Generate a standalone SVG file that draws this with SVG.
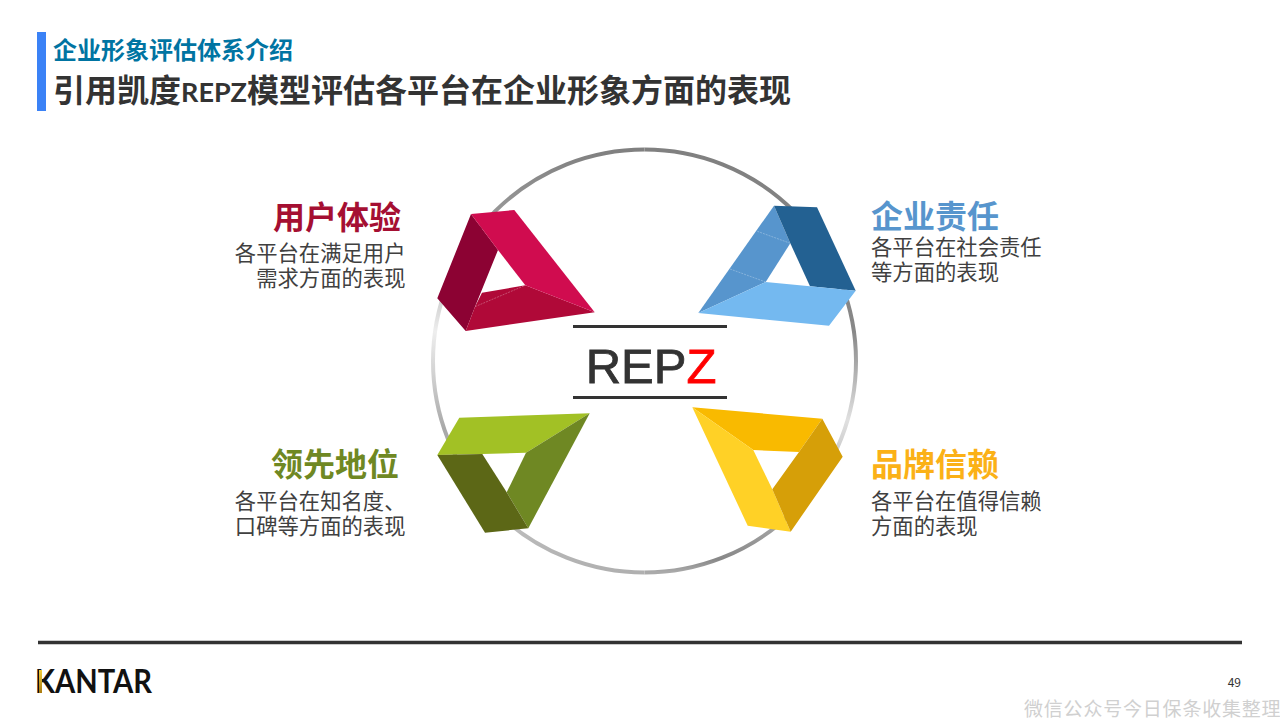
<svg xmlns="http://www.w3.org/2000/svg" width="1280" height="720" viewBox="0 0 1280 720">
<style>
text{font-family:"Noto Sans CJK SC","Noto Sans",sans-serif}
.head{font-size:32px;font-weight:700}
.body{font-size:21.330px;fill:#404040}
.end{text-anchor:end}
.rule{stroke:#333;stroke-width:3}
.ring{fill:none;stroke-width:4}
.fold{stroke:#fff;stroke-opacity:.35;stroke-width:.8;stroke-dasharray:2 1;fill:none}
</style>
<defs>
<linearGradient id="ringR" gradientUnits="userSpaceOnUse" x1="0" y1="150" x2="0" y2="572">
<stop offset="0" stop-color="#808080"/><stop offset=".43" stop-color="#888"/><stop offset=".64" stop-color="#e0e0e0"/><stop offset=".7" stop-color="#d0d0d0"/><stop offset=".9" stop-color="#a0a0a0"/><stop offset=".97" stop-color="#888"/><stop offset="1" stop-color="#aaa"/>
</linearGradient>
<linearGradient id="ringL" gradientUnits="userSpaceOnUse" x1="0" y1="150" x2="0" y2="572">
<stop offset="0" stop-color="#808080"/><stop offset=".26" stop-color="#aaa"/><stop offset=".43" stop-color="#eee"/><stop offset=".55" stop-color="#ccc"/><stop offset=".66" stop-color="#a8a8a8"/><stop offset=".9" stop-color="#bbb"/><stop offset="1" stop-color="#b0b0b0"/>
</linearGradient>
<linearGradient id="gold" x1="0" y1="0" x2="0" y2="1"><stop offset="0" stop-color="#f5cf3a"/><stop offset="1" stop-color="#a87a10"/></linearGradient>
</defs>
<rect width="1280" height="720" fill="#fff"/>
<g id="header">
<rect x="37" y="32" width="9" height="79" fill="#3b82f6"/>
<text x="53" y="59" font-size="24" font-weight="700" fill="#0074a2">企业形象评估体系介绍</text>
<text x="53" y="102" font-size="32" font-weight="700" fill="#333">引用凯度<tspan font-size="27" style="font-family:Lato,sans-serif">REPZ</tspan>模型评估各平台在企业形象方面的表现</text>
</g>
<g id="connectors">
<path class="ring" stroke="url(#ringR)" d="M644.500 149.500A211.500 211.500 0 0 1 644.500 572.500"/>
<path class="ring" stroke="url(#ringL)" d="M644.500 572.500A211.500 211.500 0 0 1 644.500 149.500"/>
</g>
<g id="node-repz">
<line class="rule" x1="573" y1="326.500" x2="727" y2="326.500"/>
<line class="rule" x1="573" y1="397.500" x2="727" y2="397.500"/>
<text x="651" y="383" text-anchor="middle" font-size="49" stroke="#333" stroke-width=".8" style="font-family:'Liberation Sans',sans-serif" fill="#333">REP<tspan fill="#f00" stroke="#f00">Z</tspan></text>
</g>
<g id="node-ux">
<polygon points="471,214 498,250 475,306.700 465.700,331 437.300,298.300" fill="#8c0233"/>
<polygon points="465.700,331 475,306.700 482,292.700 525.300,285.300 594.700,312.300" fill="#b00938"/>
<polygon points="471,214 514.300,210 594.700,312.300 525.300,285.300 498,250" fill="#d00c4f"/>
<line class="fold" x1="475" y1="306.700" x2="525.300" y2="285.300"/>
<text class="head end" x="401" y="229" fill="#a50f32">用户体验</text>
<text class="body end" x="405.500" y="260.500">各平台在满足用户</text>
<text class="body end" x="405.500" y="285.500">需求方面的表现</text>
</g>
<g id="node-csr">
<polygon points="774,205.700 790.300,243.300 765.700,282 698.300,313" fill="#5795cd"/>
<polygon points="774,205.700 817,207.300 855.700,290.700 810,286.300 790.300,243.300" fill="#236192"/>
<polygon points="698.300,313 765.700,282 810,286.300 855.700,290.700 829,325.700" fill="#74b9f0"/>
<line class="fold" x1="757.300" y1="231.300" x2="790.300" y2="243.300"/>
<line class="fold" x1="730" y1="269" x2="765.700" y2="282"/>
<text class="head" x="871" y="228" fill="#5795cd">企业责任</text>
<text class="body" x="871" y="255">各平台在社会责任</text>
<text class="body" x="871" y="280">等方面的表现</text>
</g>
<g id="node-position">
<polygon points="459.300,417.700 589.700,413.300 526,452.700 482.300,454 437.300,455" fill="#a2c125"/>
<polygon points="589.700,413.300 526,452.700 506.700,492.300 528.300,528.300" fill="#6f8823"/>
<polygon points="437.300,455 482.300,454 506.700,492.300 528.300,528.300 485,532.700" fill="#5c6716"/>
<text class="head end" x="399" y="476" fill="#6f8823">领先地位</text>
<text class="body end" x="405.500" y="508.500">各平台在知名度、</text>
<text class="body end" x="405.500" y="533.500">口碑等方面的表现</text>
</g>
<g id="node-brand">
<polygon points="692.300,407.300 822.300,418.700 799,452 753.300,450" fill="#f9ba00"/>
<polygon points="692.300,407.300 753.300,450 772.300,489.300 790.700,531.700 747.700,525.700" fill="#ffd126"/>
<polygon points="822.300,418.700 842.700,456.700 790.700,531.700 772.300,489.300 799,452" fill="#d69f08"/>
<text class="head" x="871" y="476" fill="#fbb117">品牌信赖</text>
<text class="body" x="871" y="508.500">各平台在值得信赖</text>
<text class="body" x="871" y="533.500">方面的表现</text>
</g>
<g id="footer">
<line x1="38" y1="642.500" x2="1242" y2="642.500" stroke="#333" stroke-width="3.500"/>
<text x="35" y="693" font-size="32" font-weight="700" textLength="117" lengthAdjust="spacingAndGlyphs" style="font-family:Lato,sans-serif" fill="#111">KANTAR</text>
<rect x="39" y="670" width="3" height="23" fill="url(#gold)"/>
<text x="1241" y="687" text-anchor="end" font-size="12" fill="#333">49</text>
<text x="1024" y="716" font-size="19" letter-spacing="0.800" fill="#d0d0d0">微信公众号今日保条收集整理</text>
</g>
</svg>
